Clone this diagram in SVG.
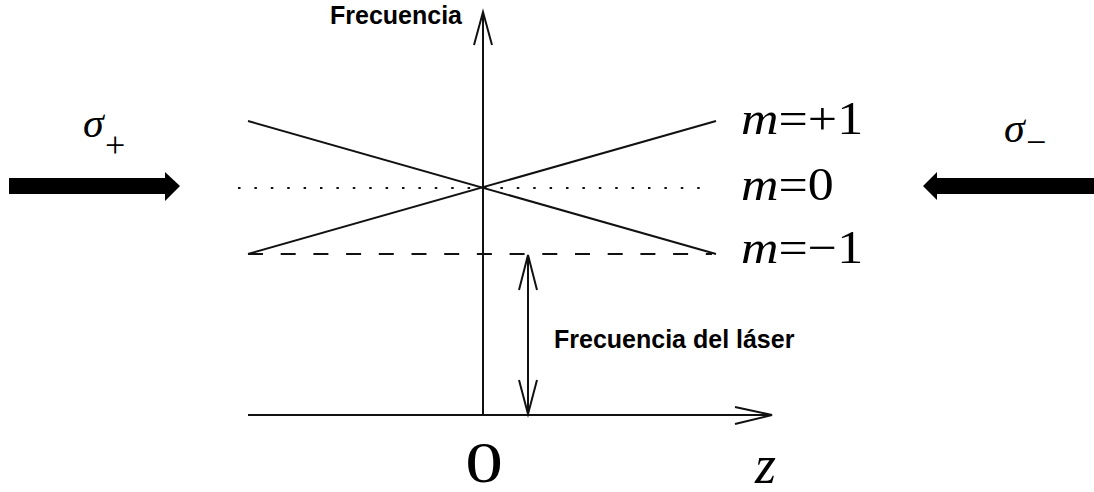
<svg xmlns="http://www.w3.org/2000/svg" width="1094" height="492" viewBox="0 0 1094 492">
<style>
.ln{stroke:#111;stroke-width:2;fill:none;stroke-linecap:butt}
.hd{stroke:#111;stroke-width:2;fill:none;stroke-linejoin:miter}
.lbl{font-family:"Liberation Sans",Arial,sans-serif;font-weight:bold;font-size:25px;fill:#000}
.math{font-family:"Liberation Serif","Times New Roman",serif;fill:#000}
.it{font-style:italic}
.beam{fill:#000}
</style>
<rect width="1094" height="492" fill="#fff"/>
<g id="axes">
  <line class="ln" x1="483" y1="415" x2="483" y2="13"/>
  <polyline class="hd" points="474,45 483,12 492,45"/>
  <line class="ln" x1="248" y1="415" x2="771" y2="415"/>
  <polyline class="hd" points="735,407 772,415 735,424"/>
</g>
<g id="levels">
  <line class="ln" x1="248" y1="121" x2="716" y2="254"/>
  <line class="ln" x1="248" y1="254" x2="716" y2="121"/>
  <line class="ln" x1="238" y1="188" x2="705" y2="188" stroke-dasharray="2.5 13.9"/>
  <line class="ln" x1="248" y1="254" x2="712" y2="254" stroke-dasharray="15 17.7"/>
</g>
<g id="laser-arrow">
  <line class="ln" x1="528" y1="255" x2="528" y2="414"/>
  <polyline class="hd" points="519,290 528,255 537,290"/>
  <polyline class="hd" points="519,380 528,414 537,380"/>
</g>
<g id="beam-left">
  <polygon class="beam" points="9,178 165,178 165,172 180,186 165,201 165,194 9,194"/>
  <text class="math" font-size="42"><tspan class="it" x="83" y="137">σ</tspan><tspan font-size="36" x="105" y="157">+</tspan></text>
</g>
<g id="beam-right">
  <polygon class="beam" points="1094,178 937,178 937,172 923,186 937,200 937,194 1094,194"/>
  <text class="math" font-size="42"><tspan class="it" x="1004" y="142">σ</tspan><tspan font-size="36" x="1026" y="154">−</tspan></text>
</g>
<g id="labels">
  <text class="lbl" x="330" y="24">Frecuencia</text>
  <text class="lbl" x="554" y="348">Frecuencia del láser</text>
  <text class="math" font-size="46" transform="translate(741,134) scale(1.13,1)"><tspan class="it">m</tspan>=+1</text>
  <text class="math" font-size="46" transform="translate(741,200) scale(1.13,1)"><tspan class="it">m</tspan>=0</text>
  <text class="math" font-size="46" transform="translate(741,263) scale(1.13,1)"><tspan class="it">m</tspan>=−1</text>
  <text class="math" font-size="58" text-anchor="middle" transform="translate(484,482) scale(1.3,1)">0</text>
  <text class="math it" font-size="54" x="755" y="483">z</text>
</g>
</svg>
